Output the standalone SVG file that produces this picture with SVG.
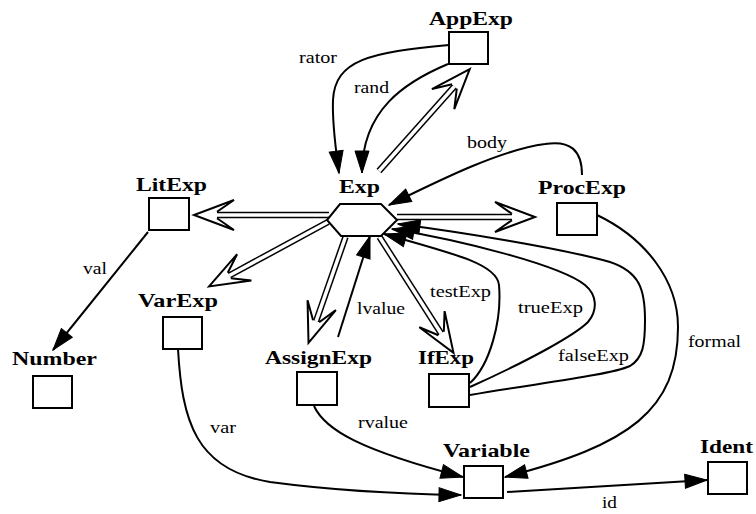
<svg xmlns="http://www.w3.org/2000/svg" width="756" height="514" viewBox="0 0 756 514">
<style>
.box{fill:#fff;stroke:#000;stroke-width:2}
.nl{font-family:"Liberation Serif","Times New Roman",serif;font-weight:bold;font-size:19px;fill:#000}
.el{font-family:"Liberation Serif","Times New Roman",serif;font-size:17px;fill:#000}
.e{fill:none;stroke:#000;stroke-width:2;marker-end:url(#fa)}
.dblo{fill:none;stroke:#000;stroke-width:6.5}
.dbli{fill:none;stroke:#fff;stroke-width:3.5;marker-end:url(#oa)}
</style>
<defs>
<marker id="fa" markerUnits="userSpaceOnUse" viewBox="-23 -8 25 16" refX="0" refY="0" markerWidth="25" markerHeight="16" orient="auto" overflow="visible">
<path d="M-22,-7 L0,0 L-22,7 z" fill="#000" stroke="#000" stroke-width="1"/>
</marker>
<marker id="oa" markerUnits="userSpaceOnUse" viewBox="-20 -16 45 32" refX="0" refY="0" markerWidth="45" markerHeight="32" orient="auto" overflow="visible">
<path d="M0,-3.2 L-17,-15 L23,0 L-17,15 L0,3.2" fill="#fff" stroke="#000" stroke-width="2" stroke-linejoin="miter"/>
</marker>
</defs>
<g id="connectors">
<path class="dblo" d="M379,171 L454.4,86.4"/><path class="dbli" d="M379,171 L454.4,86.4"/>
<path class="dblo" d="M329,215 L217,215"/><path class="dbli" d="M329,215 L217,215"/>
<path class="dblo" d="M397,217 L512,217"/><path class="dbli" d="M397,217 L512,217"/>
<path class="dblo" d="M328,222 L229.3,275.5"/><path class="dbli" d="M328,222 L229.3,275.5"/>
<path class="dblo" d="M345.5,237 L316.1,321.2"/><path class="dbli" d="M345.5,237 L316.1,321.2"/>
<path class="dblo" d="M379.5,237 L441.1,333.5"/><path class="dbli" d="M379.5,237 L441.1,333.5"/>
<path class="e" d="M449,45 C370,52 335,60 333,100 C332,125 336,150 339,173"/>
<path class="e" d="M448,64 C405,82 362,110 362,173"/>
<path class="e" d="M582,175 C582,150 570,140 545,144 C500,150 440,180 389,205"/>
<path class="e" d="M470,383 C490,365 502,320 499,285 C497,265 460,255 384,234"/>
<path class="e" d="M470,387 C530,360 575,335 588,322 C598,310 597,295 585,285 C560,265 460,240 392,229"/>
<path class="e" d="M470,395 C540,383 610,375 630,366 C643,358 645,345 645,320 C645,290 640,272 610,262 C560,248 460,232 398,224"/>
<path class="e" d="M597,215 C645,238 678,280 678,327 C678,410 630,445 505,477"/>
<path class="e" d="M507,492 L707,480"/>
<path class="e" d="M178,349 C182,420 195,470 270,482 C330,490 400,494 461,495"/>
<path class="e" d="M314,406 C325,430 360,450 463,477"/>
<path class="e" d="M338,337 L370,236"/>
<path class="e" d="M148,232 L53,350"/>
</g>
<g id="edge-labels">
<text class="el" x="299" y="63" textLength="38" lengthAdjust="spacingAndGlyphs">rator</text>
<text class="el" x="354" y="93" textLength="35" lengthAdjust="spacingAndGlyphs">rand</text>
<text class="el" x="467" y="148" textLength="40" lengthAdjust="spacingAndGlyphs">body</text>
<text class="el" x="83" y="274" textLength="24" lengthAdjust="spacingAndGlyphs">val</text>
<text class="el" x="357" y="314" textLength="48" lengthAdjust="spacingAndGlyphs">lvalue</text>
<text class="el" x="430" y="297" textLength="61" lengthAdjust="spacingAndGlyphs">testExp</text>
<text class="el" x="518" y="313" textLength="65" lengthAdjust="spacingAndGlyphs">trueExp</text>
<text class="el" x="558" y="361" textLength="71" lengthAdjust="spacingAndGlyphs">falseExp</text>
<text class="el" x="688" y="347" textLength="53" lengthAdjust="spacingAndGlyphs">formal</text>
<text class="el" x="210" y="433" textLength="26" lengthAdjust="spacingAndGlyphs">var</text>
<text class="el" x="358" y="428" textLength="50" lengthAdjust="spacingAndGlyphs">rvalue</text>
<text class="el" x="602" y="508" textLength="15" lengthAdjust="spacingAndGlyphs">id</text>
</g>
<g id="Exp">
<polygon class="box" points="340,204 381,204 397,220 381,236 341,236 327,220"/>
<text class="nl" x="339" y="193" textLength="41" lengthAdjust="spacingAndGlyphs">Exp</text>
</g>
<g id="AppExp">
<rect class="box" x="449" y="32" width="39" height="32"/>
<text class="nl" x="429" y="25" textLength="84" lengthAdjust="spacingAndGlyphs">AppExp</text>
</g>
<g id="LitExp">
<rect class="box" x="149" y="198" width="40" height="32"/>
<text class="nl" x="136" y="191" textLength="71" lengthAdjust="spacingAndGlyphs">LitExp</text>
</g>
<g id="ProcExp">
<rect class="box" x="557" y="203" width="40" height="32"/>
<text class="nl" x="538" y="194" textLength="88" lengthAdjust="spacingAndGlyphs">ProcExp</text>
</g>
<g id="VarExp">
<rect class="box" x="163" y="317" width="39" height="32"/>
<text class="nl" x="138" y="307" textLength="80" lengthAdjust="spacingAndGlyphs">VarExp</text>
</g>
<g id="Number">
<rect class="box" x="33" y="376" width="39" height="32"/>
<text class="nl" x="12" y="365" textLength="85" lengthAdjust="spacingAndGlyphs">Number</text>
</g>
<g id="AssignExp">
<rect class="box" x="297" y="372" width="40" height="33"/>
<text class="nl" x="265" y="364" textLength="107" lengthAdjust="spacingAndGlyphs">AssignExp</text>
</g>
<g id="IfExp">
<rect class="box" x="429" y="374" width="40" height="33"/>
<text class="nl" x="418" y="364" textLength="56" lengthAdjust="spacingAndGlyphs">IfExp</text>
</g>
<g id="Variable">
<rect class="box" x="464" y="466" width="39" height="32"/>
<text class="nl" x="443" y="457" textLength="87" lengthAdjust="spacingAndGlyphs">Variable</text>
</g>
<g id="Ident">
<rect class="box" x="708" y="462" width="39" height="32"/>
<text class="nl" x="700" y="453" textLength="53" lengthAdjust="spacingAndGlyphs">Ident</text>
</g>
</svg>
